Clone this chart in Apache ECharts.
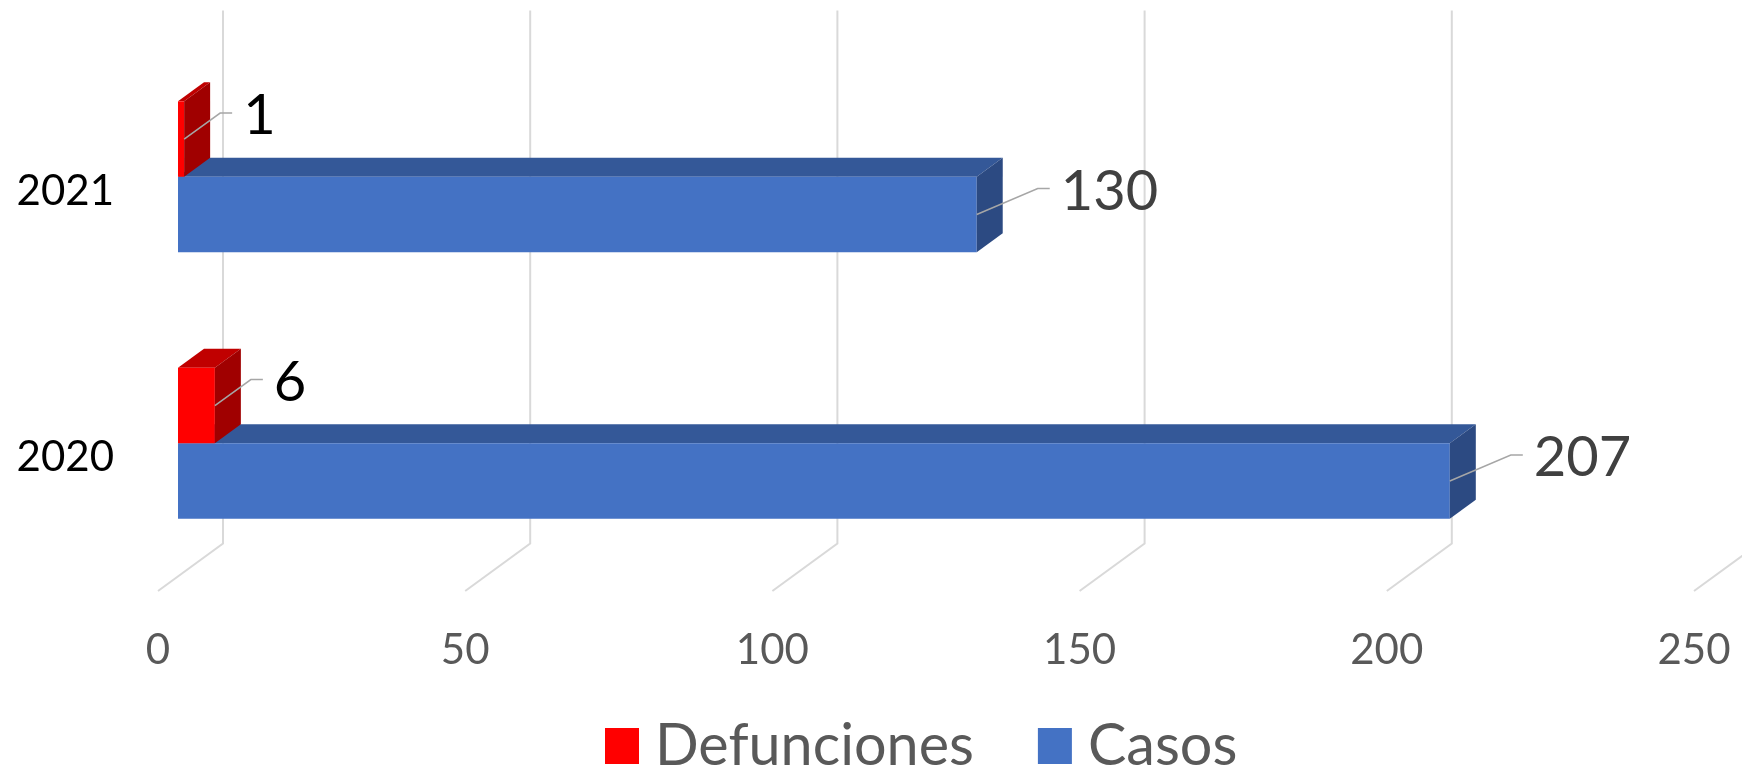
<!DOCTYPE html>
<html>
<head>
<meta charset="utf-8">
<script src="https://cdn.jsdelivr.net/npm/echarts@6/dist/echarts.min.js"></script>
<style>
  html, body { margin: 0; padding: 0; background: #fff; }
  #chart { width: 1742px; height: 771px; }
</style>
</head>
<body>
<div id="chart"></div>
<script>
// datos
const years = ['2020', '2021'];
const defunciones = [6, 1];
const casos = [207, 130];
const ticks = [0, 50, 100, 150, 200, 250];

// profundidad de las cajas 3D
const DX = 26, DY = -19;
// pared del fondo / borde frontal del piso (respecto al plano frontal de las barras)
const BACK = [45, -33], FRONT = [-20, 14.5];
const FONT = 'Lato, "Noto Sans", sans-serif';

// caja 3D: cara frontal + superior + lateral, con etiqueta y linea guia
function boxRender(colors, above, labelColor, lead) {
  return function (params, api) {
    const v = api.value(0), c = api.value(1);
    const p0 = api.coord([0, c]);
    const p1 = api.coord([v, c]);
    const band = api.size([0, 1])[1];
    const h = band * 0.283;
    const yTop = above ? p0[1] - h : p0[1];
    const yBot = yTop + h;
    const x0 = p0[0], x1 = p1[0];
    const ym = (yTop + yBot) / 2;
    const mx = x1 + lead[0], my = ym + lead[1];
    return {
      type: 'group',
      children: [
        {
          type: 'polygon',
          shape: { points: [[x0, yTop], [x1, yTop], [x1 + DX, yTop + DY], [x0 + DX, yTop + DY]] },
          style: { fill: colors[1] }
        },
        {
          type: 'rect',
          shape: { x: x0, y: yTop, width: x1 - x0, height: h },
          style: { fill: colors[0] }
        },
        {
          type: 'polygon',
          shape: { points: [[x1, yTop], [x1 + DX, yTop + DY], [x1 + DX, yBot + DY], [x1, yBot]] },
          style: { fill: colors[2] }
        },
        {
          type: 'polyline',
          shape: { points: [[x1, ym], [mx, my], [mx + 12, my]] },
          style: { stroke: '#A6A6A6', lineWidth: 1.5, fill: null }
        },
        {
          type: 'text',
          x: mx + 23, y: my + 3,
          style: {
            text: String(v), fill: labelColor, font: '56px ' + FONT,
            align: 'left', verticalAlign: 'middle'
          }
        }
      ]
    };
  };
}

// lineas de cuadricula: pared del fondo + diagonal del piso
function gridRender(params, api) {
  const cs = params.coordSys;
  const x = api.coord([api.value(0), 0])[0];
  const yB = cs.y + cs.height;
  return {
    type: 'polyline',
    shape: {
      points: [
        [x + BACK[0], cs.y + BACK[1]],
        [x + BACK[0], yB + BACK[1]],
        [x + FRONT[0], yB + FRONT[1]]
      ]
    },
    style: { stroke: '#D9D9D9', lineWidth: 2, fill: null }
  };
}

const chart = echarts.init(document.getElementById('chart'));
chart.setOption({
  animation: false,
  backgroundColor: '#fff',
  grid: [
    { left: 178, top: 43.5, width: 1536, height: 533 },
    { left: 158, top: 58, width: 1536, height: 533 }
  ],
  xAxis: [
    { gridIndex: 0, type: 'value', min: 0, max: 250, interval: 50, show: false },
    {
      gridIndex: 1, type: 'value', min: 0, max: 250, interval: 50,
      axisLine: { show: false }, axisTick: { show: false }, splitLine: { show: false },
      axisLabel: { color: '#595959', fontSize: 42, fontFamily: FONT, margin: 38, lineHeight: 42 }
    }
  ],
  yAxis: [
    { gridIndex: 0, type: 'category', data: years, show: false },
    {
      gridIndex: 1, type: 'category', data: years,
      axisLine: { show: false }, axisTick: { show: false }, splitLine: { show: false },
      axisLabel: { color: '#000', fontSize: 42, fontFamily: FONT, margin: 44 }
    }
  ],
  legend: {
    data: ['Defunciones', 'Casos'],
    left: 605, top: 717, padding: 0,
    itemWidth: 34, itemHeight: 36, itemGap: 64,
    icon: 'rect',
    textStyle: { color: '#595959', fontSize: 57.5, fontFamily: FONT, lineHeight: 56, padding: [0, 0, 0, 11] }
  },
  series: [
    {
      type: 'custom', name: 'grid', xAxisIndex: 0, yAxisIndex: 0,
      renderItem: gridRender, clip: false, silent: true, z: 1,
      data: ticks.map(t => [t, 0])
    },
    {
      type: 'custom', name: 'Casos', xAxisIndex: 0, yAxisIndex: 0,
      itemStyle: { color: '#4472C4' },
      renderItem: boxRender(['#4472C4', '#345898', '#2C4A82'], false, '#404040', [61, -26]),
      clip: false, z: 2, encode: { x: 0, y: 1 },
      data: casos.map((v, i) => [v, i])
    },
    {
      type: 'custom', name: 'Defunciones', xAxisIndex: 0, yAxisIndex: 0,
      itemStyle: { color: '#FF0000' },
      renderItem: boxRender(['#FF0000', '#C00000', '#A00000'], true, '#000', [36, -26]),
      clip: false, z: 3, encode: { x: 0, y: 1 },
      data: defunciones.map((v, i) => [v, i])
    }
  ]
});
</script>
</body>
</html>
